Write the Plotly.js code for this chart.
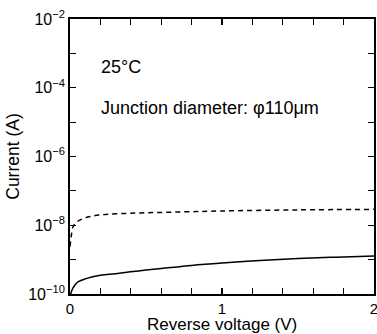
<!DOCTYPE html>
<html><head><meta charset="utf-8">
<script src="https://cdn.plot.ly/plotly-3.0.1.min.js"></script>
<style>html,body{margin:0;padding:0;background:#fff}#c{width:377px;height:334px}</style>
</head><body><div id="c"></div>
<script>
var dashedV = [0, 0.01, 0.02, 0.04, 0.07, 0.1, 0.15, 0.2, 0.3, 0.5, 0.75, 1.0, 1.5, 2.0];
var dashedI = [2.4e-9, 5.5e-9, 9e-9, 1.2e-8, 1.45e-8, 1.65e-8, 1.85e-8, 2.0e-8, 2.15e-8, 2.3e-8, 2.45e-8, 2.6e-8, 2.8e-8, 2.9e-8];
var solidV = [0.005, 0.01, 0.02, 0.035, 0.055, 0.1, 0.2, 0.3, 0.45, 0.6, 0.8, 1.0, 1.25, 1.5, 1.75, 2.0];
var solidI = [1.0e-10, 1.2e-10, 1.5e-10, 1.9e-10, 2.3e-10, 2.75e-10, 3.5e-10, 3.9e-10, 4.7e-10, 5.5e-10, 6.8e-10, 8.0e-10, 9.4e-10, 1.07e-9, 1.18e-9, 1.27e-9];
var yTickVals = [1e-10, 1e-9, 1e-8, 1e-7, 1e-6, 1e-5, 1e-4, 1e-3, 1e-2];
var yTickText = ['10<sup>\u221210</sup>', '', '10<sup>\u22128</sup>', '', '10<sup>\u22126</sup>', '', '10<sup>\u22124</sup>', '', '10<sup>\u22122</sup>'];
var xTickVals = [0, 0.2, 0.4, 0.6, 0.8, 1.0, 1.2, 1.4, 1.6, 1.8, 2.0];
var xTickText = ['0', '', '', '', '', '1', '', '', '', '', '2'];
var xTitle = 'Reverse voltage (V)';
var yTitle = 'Current (A)';
var label1 = '25°C';
var label2 = 'Junction diameter: \u03c6110\u03bcm';

var font = {family: 'Liberation Sans, Arial, sans-serif', color: '#000', size: 16};
var data = [
  {x: dashedV, y: dashedI, mode: 'lines', line: {color: '#000', width: 1.5, dash: '5px,4px', shape: 'spline'}, hoverinfo: 'skip'},
  {x: solidV, y: solidI, mode: 'lines', line: {color: '#000', width: 1.5, shape: 'spline'}, hoverinfo: 'skip'}
];
var layout = {
  width: 377, height: 334,
  margin: {l: 70, r: 3, t: 19, b: 40},
  paper_bgcolor: '#fff', plot_bgcolor: '#fff',
  showlegend: false,
  font: font,
  xaxis: {
    range: [0, 2], tickvals: xTickVals, ticktext: xTickText,
    ticks: 'inside', ticklen: 6, tickwidth: 1.2, tickcolor: '#000',
    showline: true, linewidth: 1.8, linecolor: '#000', mirror: 'ticks',
    showgrid: false, zeroline: false, ticklabeloverflow: 'allow',
    tickfont: {size: 15}, ticklabelstandoff: 0
  },
  yaxis: {
    type: 'log', range: [-10, -2], tickvals: yTickVals, ticktext: yTickText,
    ticks: 'inside', ticklen: 6, tickwidth: 1.2, tickcolor: '#000',
    showline: true, linewidth: 1.8, linecolor: '#000', mirror: 'ticks',
    showgrid: false, zeroline: false, ticklabeloverflow: 'allow',
    tickfont: {size: 16}, title: {text: yTitle, font: {size: 17.5}, standoff: 4}
  },
  annotations: [
    {xref: 'paper', yref: 'paper', x: 0.5, y: 0, yshift: -30, xanchor: 'center', yanchor: 'middle', text: xTitle, showarrow: false, font: {size: 17}},
    {xref: 'paper', yref: 'paper', x: 0.095, y: 0.825, xanchor: 'left', yanchor: 'middle', text: label1, showarrow: false, font: {size: 18}},
    {xref: 'paper', yref: 'paper', x: 0.095, y: 0.677, xanchor: 'left', yanchor: 'middle', text: label2, showarrow: false, font: {size: 18}}
  ]
};
Plotly.newPlot('c', data, layout, {staticPlot: true, displayModeBar: false});
</script></body></html>
